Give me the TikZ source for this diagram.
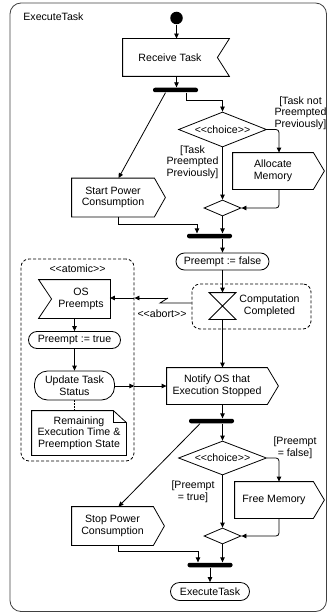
\documentclass[tikz,border=0pt]{standalone}
\usepackage{fontspec}
\setmainfont{Liberation Sans}
\usetikzlibrary{arrows.meta,shapes.geometric,calc}

% stereotype brackets, kept as two separate characters
\newcommand\stlt{<\kern0pt<}
\newcommand\stgt{>\kern0pt>}

\begin{document}
\begin{tikzpicture}[x=1pt,y=-1pt,
  font=\fontsize{10.6}{11.6}\selectfont,
  line width=0.8pt,
  arr/.style={-{Triangle[length=5pt,width=4.5pt]}},
  act/.style n args={2}{minimum width=#1,minimum height=#2,inner sep=0pt,align=center},
  pill/.style n args={3}{draw,rounded corners=#3,minimum width=#1,minimum height=#2,inner sep=0pt,align=center},
  bar/.style={fill=black,minimum width=45pt,minimum height=4.5pt,inner sep=0pt,rounded corners=2pt},
  choice/.style={diamond,draw,inner sep=0pt,shape aspect=2.5,minimum width=88pt,minimum height=35pt},
  merge/.style={diamond,draw,inner sep=0pt,shape aspect=2.3,minimum width=37pt,minimum height=16pt},
  region/.style={draw,dash pattern=on 3pt off 2pt,rounded corners=8pt,inner sep=0pt},
  guard/.style={align=center,inner sep=0pt},
]
\useasboundingbox (0,0) rectangle (328,615);

% activity frame
\draw[black!75,rounded corners=11pt] (10,3) rectangle (326.5,611.5);
\node[anchor=west,inner sep=0pt] (title) at (23,17) {ExecuteTask};

% ---- upper part -------------------------------------------------
\node[circle,fill=black,inner sep=0pt,minimum size=12.5pt] (init) at (176.5,18) {};
\node[act={94pt}{37pt}] (recv) at (170,57.5) {Receive Task};
\node[bar] (bar1) at (175.5,90) {};
\node[choice] (choice1) at (222.5,129.5) {\stlt choice\stgt};
\node[act={80pt}{36pt}] (alloc) at (273,171) {Allocate\\Memory};
\node[act={82pt}{38pt}] (spc) at (113,197.5) {Start Power\\Consumption};
\node[merge] (merge1) at (222.5,208) {};
\node[bar] (bar2) at (209.5,236) {};
\node[pill={93pt}{17pt}{8.5pt}] (pfalse) at (222.5,261.5) {Preempt := false};

\node[guard] (g1) at (300.5,113) {[Task not\\Preempted\\Previously]};
\node[guard] (g2) at (192.5,162) {[Task\\Preempted\\Previously]};

% ---- interruptible region with the timer ---------------------------
\node[region,minimum width=119pt,minimum height=45pt] (tregion) at (251.5,306.5) {};
\node[act={26pt}{26pt}] (timer) at (222.5,306) {};
\node[inner sep=0pt,align=center] (tlabel) at (269.5,306) {Computation\\Completed};

% ---- atomic region -------------------------------------------------
\node[region,minimum width=113pt,minimum height=202pt] (atomic) at (77.5,360) {};
\node[inner sep=0pt] (atomlabel) at (77.5,269) {\stlt atomic\stgt};
\node[act={58pt}{38pt}] (ospre) at (81,299) {OS\\Preempts};
\node[pill={92pt}{17pt}{8.5pt}] (ptrue) at (74.5,340) {Preempt := true};
\node[pill={80pt}{29pt}{13pt}] (update) at (74.5,385.5) {Update Task\\Status};
\node[act={94pt}{44pt}] (note) at (79,433) {Remaining\\Execution Time \&\\Preemption State};

% ---- lower part -------------------------------------------------
\node[act={100pt}{36pt}] (notify) at (217,386) {Notify OS that\\Execution Stopped};
\node[bar] (bar3) at (211.5,421) {};
\node[choice,minimum height=34pt] (choice2) at (222.5,458) {\stlt choice\stgt};
\node[act={78pt}{36pt}] (free) at (274,500) {Free Memory};
\node[act={81pt}{38pt}] (stop) at (112.5,526) {Stop Power\\Consumption};
\node[merge] (merge2) at (222.5,536) {};
\node[bar] (bar4) at (210,565) {};
\node[pill={79pt}{18pt}{9pt}] (final) at (210,591.5) {ExecuteTask};

\node[guard] (g3) at (295,447.5) {[Preempt\\= false]};
\node[guard] (g4) at (193,492) {[Preempt\\= true]};
\node[inner sep=0pt] (abortlbl) at (162,314) {\stlt abort\stgt};

% ---- outlines of the action shapes ---------------------------------
% accept event (notch on the right)
\draw (recv.north west) -- ([xshift=12pt]recv.north east) -- (recv.east)
      -- ([xshift=12pt]recv.south east) -- (recv.south west) -- cycle;
% accept event (notch on the left)
\draw ([xshift=-13pt]ospre.north west) -- (ospre.north east) -- (ospre.south east)
      -- ([xshift=-13pt]ospre.south west) -- (ospre.west) -- cycle;
% send signal actions
\foreach \n in {alloc,spc,notify,free,stop}{
  \draw (\n.north west) -- (\n.north east) -- ([xshift=11pt]\n.east)
        -- (\n.south east) -- (\n.south west) -- cycle;
}
% time event (hourglass)
\draw (timer.north west) -- (timer.north east) -- (timer.south west)
      -- (timer.south east) -- cycle;
% note with folded corner
\draw (note.north west) -- ([xshift=-13pt]note.north east) -- ([yshift=-12pt]note.north east)
      -- (note.south east) -- (note.south west) -- cycle;
\draw ([xshift=-13pt]note.north east) |- ([yshift=-12pt]note.north east);

% ---- control flows -------------------------------------------------
\draw[arr] (init) -- (init |- recv.north);
\draw[arr] (init |- recv.south) -- (init |- bar1.north);
\draw[arr] ([xshift=-10pt]bar1.south) -- ([xshift=5.5pt]spc.north);
\draw[arr] ([xshift=11pt]bar1.south) -- ++(0,8) -| (choice1.north);
\draw[arr,rounded corners=3pt] (choice1.east) -| ([xshift=6pt]alloc.north);
\draw[arr] (choice1.south) -- (merge1.north);
\draw[arr,rounded corners=3pt] ([xshift=6pt]alloc.south) |- (merge1.east);
\draw[arr] ([xshift=5.5pt]spc.south) -- ++(0,7) -| ([xshift=-12.5pt]bar2.north);
\draw[arr] (merge1.south) -- (merge1.south |- bar2.north);
\draw[arr] (pfalse.north |- bar2.south) -- (pfalse.north);
\draw[arr] (pfalse.south) -- (timer.north);
\draw[arr] (timer.south) -- (timer.south |- notify.north);

% interrupting edge
\coordinate (zz1) at (160,303);
\coordinate (zz2) at (168,298);
\draw (tregion.west |- zz1) -- (zz1) -- (zz2);
\draw[arr] (zz2) -- (atomic.east |- zz2);
\draw[arr] (atomic.east |- zz2) -- ([xshift=-0.5pt]ospre.east |- zz2);

\draw[arr] ([xshift=-6.5pt]ospre.south) -- (ptrue.north);
\draw[arr] (ptrue.south) -- (update.north);
\draw[dash pattern=on 2pt off 1pt,line width=0.6pt] (update.south) -- (update.south |- note.north);
\draw[arr] (update.east |- notify.west) -- (atomic.east |- notify.west);
\draw[arr] (atomic.east |- notify.west) -- (notify.west);

\draw[arr] ([xshift=5.5pt]notify.south) -- ([xshift=5.5pt]notify.south |- bar3.north);
\draw[arr] ([xshift=-11.5pt]bar3.south) -- ([xshift=6pt]stop.north);
\draw[arr] (choice2.north |- bar3.south) -- (choice2.north);
\draw[arr,rounded corners=3pt] (choice2.east) -| ([xshift=5pt]free.north);
\draw[arr] (choice2.south) -- (merge2.north);
\draw[arr,rounded corners=3pt] ([xshift=5pt]free.south) |- (merge2.east);
\draw[arr] ([xshift=6pt]stop.south) -- ++(0,6) -| ([xshift=-12pt]bar4.north);
\draw[arr] (merge2.south) -- (merge2.south |- bar4.north);
\draw[arr] (bar4.south) -- (final.north);
\end{tikzpicture}
\end{document}
